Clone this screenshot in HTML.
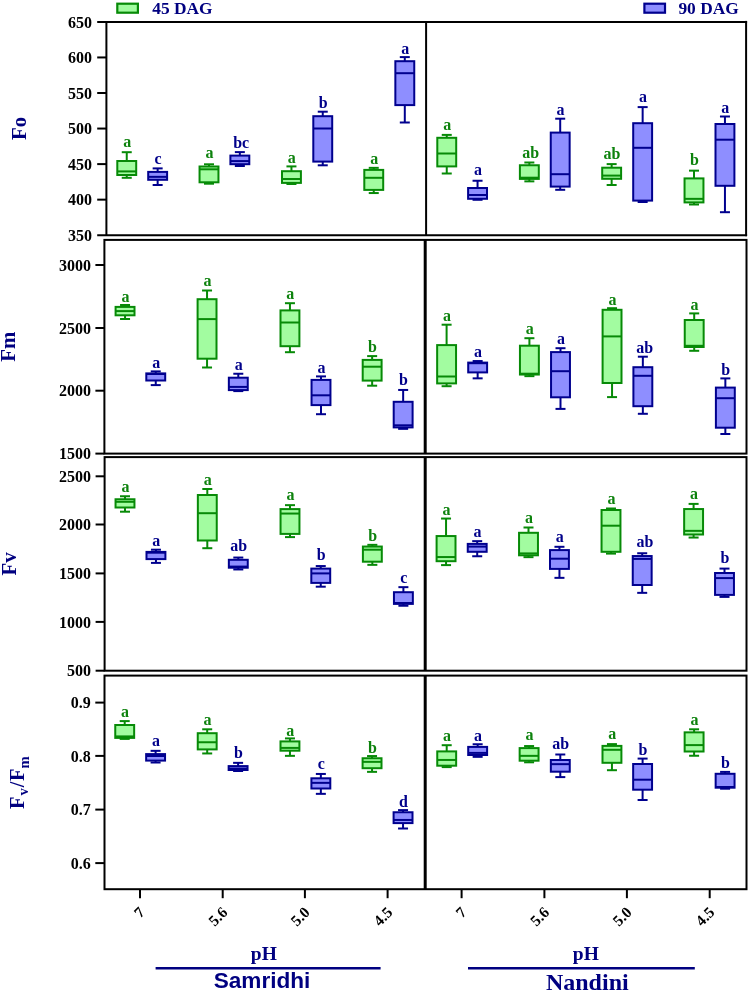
<!DOCTYPE html>
<html><head><meta charset="utf-8"><style>
html,body{margin:0;padding:0;background:#fff;}
body{width:749px;height:993px;overflow:hidden;}
svg{display:block;will-change:transform;filter:blur(0.35px);}
text{font-family:"Liberation Serif",serif;font-weight:bold;}
.lab{font-size:17px;text-anchor:middle;}
.yt{font-size:16px;text-anchor:end;fill:#000;}
.xt{font-size:15.5px;text-anchor:end;fill:#000;}
.ttl{font-size:20.8px;text-anchor:middle;fill:#000080;}
.sub{font-size:14.2px;}
.leg{font-size:17.4px;fill:#000080;}
.ph{font-size:19.5px;fill:#000080;text-anchor:middle;}
.sam{font-family:"Liberation Sans",sans-serif;font-size:22.6px;fill:#000080;text-anchor:middle;}
.nan{font-size:24px;fill:#000080;text-anchor:middle;}
</style></head><body>
<svg width="749" height="993" viewBox="0 0 749 993">
<rect width="749" height="993" fill="#fff"/>
<line x1="97.2" y1="21.9" x2="747.1" y2="21.9" stroke="#000" stroke-width="2"/>
<line x1="97.2" y1="235.2" x2="747.1" y2="235.2" stroke="#000" stroke-width="2"/>
<line x1="106.4" y1="21.9" x2="106.4" y2="235.2" stroke="#000" stroke-width="2"/>
<line x1="746.1" y1="20.9" x2="746.1" y2="236.2" stroke="#000" stroke-width="2"/>
<line x1="426.1" y1="21.9" x2="426.1" y2="235.2" stroke="#000" stroke-width="2"/>
<line x1="97.2" y1="57.45" x2="106.4" y2="57.45" stroke="#000" stroke-width="2"/>
<line x1="97.2" y1="93" x2="106.4" y2="93" stroke="#000" stroke-width="2"/>
<line x1="97.2" y1="128.55" x2="106.4" y2="128.55" stroke="#000" stroke-width="2"/>
<line x1="97.2" y1="164.1" x2="106.4" y2="164.1" stroke="#000" stroke-width="2"/>
<line x1="97.2" y1="199.65" x2="106.4" y2="199.65" stroke="#000" stroke-width="2"/>
<rect x="104.4" y="239.9" width="642.1" height="213.7" fill="none" stroke="#000" stroke-width="2"/>
<line x1="425.2" y1="239.9" x2="425.2" y2="453.6" stroke="#000" stroke-width="3"/>
<line x1="95.4" y1="265" x2="104.4" y2="265" stroke="#000" stroke-width="2"/>
<line x1="95.4" y1="328" x2="104.4" y2="328" stroke="#000" stroke-width="2"/>
<line x1="95.4" y1="390.7" x2="104.4" y2="390.7" stroke="#000" stroke-width="2"/>
<line x1="95.4" y1="453.6" x2="104.4" y2="453.6" stroke="#000" stroke-width="2"/>
<rect x="104.6" y="457.1" width="641.9" height="213.6" fill="none" stroke="#000" stroke-width="2"/>
<line x1="425.2" y1="457.1" x2="425.2" y2="670.7" stroke="#000" stroke-width="3"/>
<line x1="95.6" y1="476.3" x2="104.6" y2="476.3" stroke="#000" stroke-width="2"/>
<line x1="95.6" y1="524.5" x2="104.6" y2="524.5" stroke="#000" stroke-width="2"/>
<line x1="95.6" y1="573.4" x2="104.6" y2="573.4" stroke="#000" stroke-width="2"/>
<line x1="95.6" y1="621.9" x2="104.6" y2="621.9" stroke="#000" stroke-width="2"/>
<line x1="95.6" y1="670.7" x2="104.6" y2="670.7" stroke="#000" stroke-width="2"/>
<rect x="104.5" y="675.6" width="642" height="213.6" fill="none" stroke="#000" stroke-width="2"/>
<line x1="425.2" y1="675.6" x2="425.2" y2="889.2" stroke="#000" stroke-width="3"/>
<line x1="95.3" y1="702.6" x2="104.5" y2="702.6" stroke="#000" stroke-width="2"/>
<line x1="95.3" y1="755.9" x2="104.5" y2="755.9" stroke="#000" stroke-width="2"/>
<line x1="95.3" y1="809.6" x2="104.5" y2="809.6" stroke="#000" stroke-width="2"/>
<line x1="95.3" y1="863.1" x2="104.5" y2="863.1" stroke="#000" stroke-width="2"/>
<line x1="140" y1="889.2" x2="140" y2="898.2" stroke="#000" stroke-width="2"/>
<line x1="222.7" y1="889.2" x2="222.7" y2="898.2" stroke="#000" stroke-width="2"/>
<line x1="304.9" y1="889.2" x2="304.9" y2="898.2" stroke="#000" stroke-width="2"/>
<line x1="387.6" y1="889.2" x2="387.6" y2="898.2" stroke="#000" stroke-width="2"/>
<line x1="461.6" y1="889.2" x2="461.6" y2="898.2" stroke="#000" stroke-width="2"/>
<line x1="544.4" y1="889.2" x2="544.4" y2="898.2" stroke="#000" stroke-width="2"/>
<line x1="626.9" y1="889.2" x2="626.9" y2="898.2" stroke="#000" stroke-width="2"/>
<line x1="709.7" y1="889.2" x2="709.7" y2="898.2" stroke="#000" stroke-width="2"/>
<g stroke="#078a07" stroke-width="2" fill="none"><line x1="126.75" y1="152.2" x2="126.75" y2="161"/><line x1="121.75" y1="152.2" x2="131.75" y2="152.2"/><line x1="126.75" y1="175" x2="126.75" y2="177.8"/><line x1="121.75" y1="177.8" x2="131.75" y2="177.8"/><rect x="117.3" y="161" width="18.9" height="14" fill="#a2fca0"/><line x1="117.3" y1="171.4" x2="136.2" y2="171.4"/></g>
<text transform="translate(127.15,147.4) scale(0.94,1.03)" fill="#0d820d" class="lab">a</text>
<g stroke="#00008e" stroke-width="2" fill="none"><line x1="157.65" y1="168.4" x2="157.65" y2="171.9"/><line x1="152.65" y1="168.4" x2="162.65" y2="168.4"/><line x1="157.65" y1="179.8" x2="157.65" y2="185"/><line x1="152.65" y1="185" x2="162.65" y2="185"/><rect x="148.2" y="171.9" width="18.9" height="7.9" fill="#8e8eff"/><line x1="148.2" y1="176.85" x2="167.1" y2="176.85"/></g>
<text transform="translate(158.05,163.8) scale(0.94,1.03)" fill="#00008a" class="lab">c</text>
<g stroke="#078a07" stroke-width="2" fill="none"><line x1="209" y1="164.3" x2="209" y2="166.5"/><line x1="204" y1="164.3" x2="214" y2="164.3"/><line x1="209" y1="182.3" x2="209" y2="183.7"/><line x1="204" y1="183.7" x2="214" y2="183.7"/><rect x="199.55" y="166.5" width="18.9" height="15.8" fill="#a2fca0"/><line x1="199.55" y1="169.3" x2="218.45" y2="169.3"/></g>
<text transform="translate(209.4,158.2) scale(0.94,1.03)" fill="#0d820d" class="lab">a</text>
<g stroke="#00008e" stroke-width="2" fill="none"><line x1="239.85" y1="152.1" x2="239.85" y2="155.6"/><line x1="234.85" y1="152.1" x2="244.85" y2="152.1"/><line x1="239.85" y1="164.2" x2="239.85" y2="166"/><line x1="234.85" y1="166" x2="244.85" y2="166"/><rect x="230.4" y="155.6" width="18.9" height="8.6" fill="#8e8eff"/><line x1="230.4" y1="161.1" x2="249.3" y2="161.1"/></g>
<text transform="translate(241.2,147.8) scale(0.94,1.03)" fill="#00008a" class="lab">bc</text>
<g stroke="#078a07" stroke-width="2" fill="none"><line x1="291.45" y1="166.4" x2="291.45" y2="171.2"/><line x1="286.45" y1="166.4" x2="296.45" y2="166.4"/><line x1="291.45" y1="182.9" x2="291.45" y2="184"/><line x1="286.45" y1="184" x2="296.45" y2="184"/><rect x="282" y="171.2" width="18.9" height="11.7" fill="#a2fca0"/><line x1="282" y1="179" x2="300.9" y2="179"/></g>
<text transform="translate(291.85,162.9) scale(0.94,1.03)" fill="#0d820d" class="lab">a</text>
<g stroke="#00008e" stroke-width="2" fill="none"><line x1="322.75" y1="111.7" x2="322.75" y2="116.2"/><line x1="317.75" y1="111.7" x2="327.75" y2="111.7"/><line x1="322.75" y1="161.6" x2="322.75" y2="165.3"/><line x1="317.75" y1="165.3" x2="327.75" y2="165.3"/><rect x="313.3" y="116.2" width="18.9" height="45.4" fill="#8e8eff"/><line x1="313.3" y1="128.5" x2="332.2" y2="128.5"/></g>
<text transform="translate(323.15,107.9) scale(0.94,1.03)" fill="#00008a" class="lab">b</text>
<g stroke="#078a07" stroke-width="2" fill="none"><line x1="373.75" y1="167.85" x2="373.75" y2="169.9"/><line x1="368.75" y1="167.85" x2="378.75" y2="167.85"/><line x1="373.75" y1="189.9" x2="373.75" y2="193.05"/><line x1="368.75" y1="193.05" x2="378.75" y2="193.05"/><rect x="364.3" y="169.9" width="18.9" height="20" fill="#a2fca0"/><line x1="364.3" y1="177.8" x2="383.2" y2="177.8"/></g>
<text transform="translate(374.15,164.2) scale(0.94,1.03)" fill="#0d820d" class="lab">a</text>
<g stroke="#00008e" stroke-width="2" fill="none"><line x1="404.8" y1="57.1" x2="404.8" y2="61.2"/><line x1="399.8" y1="57.1" x2="409.8" y2="57.1"/><line x1="404.8" y1="105.1" x2="404.8" y2="122.5"/><line x1="399.8" y1="122.5" x2="409.8" y2="122.5"/><rect x="395.35" y="61.2" width="18.9" height="43.9" fill="#8e8eff"/><line x1="395.35" y1="73.2" x2="414.25" y2="73.2"/></g>
<text transform="translate(405.2,54.2) scale(0.94,1.03)" fill="#00008a" class="lab">a</text>
<g stroke="#078a07" stroke-width="2" fill="none"><line x1="446.75" y1="134.9" x2="446.75" y2="137.8"/><line x1="441.75" y1="134.9" x2="451.75" y2="134.9"/><line x1="446.75" y1="166.4" x2="446.75" y2="173.5"/><line x1="441.75" y1="173.5" x2="451.75" y2="173.5"/><rect x="437.3" y="137.8" width="18.9" height="28.6" fill="#a2fca0"/><line x1="437.3" y1="153.5" x2="456.2" y2="153.5"/></g>
<text transform="translate(447.15,130.1) scale(0.94,1.03)" fill="#0d820d" class="lab">a</text>
<g stroke="#00008e" stroke-width="2" fill="none"><line x1="477.55" y1="180.75" x2="477.55" y2="188"/><line x1="472.55" y1="180.75" x2="482.55" y2="180.75"/><line x1="477.55" y1="198.8" x2="477.55" y2="199.8"/><line x1="472.55" y1="199.8" x2="482.55" y2="199.8"/><rect x="468.1" y="188" width="18.9" height="10.8" fill="#8e8eff"/><line x1="468.1" y1="195" x2="487" y2="195"/></g>
<text transform="translate(477.95,175.4) scale(0.94,1.03)" fill="#00008a" class="lab">a</text>
<g stroke="#078a07" stroke-width="2" fill="none"><line x1="529.35" y1="162.5" x2="529.35" y2="165.25"/><line x1="524.35" y1="162.5" x2="534.35" y2="162.5"/><line x1="529.35" y1="178.9" x2="529.35" y2="181.35"/><line x1="524.35" y1="181.35" x2="534.35" y2="181.35"/><rect x="519.9" y="165.25" width="18.9" height="13.65" fill="#a2fca0"/><line x1="519.9" y1="177.7" x2="538.8" y2="177.7"/></g>
<text transform="translate(530.7,158) scale(0.94,1.03)" fill="#0d820d" class="lab">ab</text>
<g stroke="#00008e" stroke-width="2" fill="none"><line x1="560.2" y1="118.7" x2="560.2" y2="132.6"/><line x1="555.2" y1="118.7" x2="565.2" y2="118.7"/><line x1="560.2" y1="186.6" x2="560.2" y2="189.8"/><line x1="555.2" y1="189.8" x2="565.2" y2="189.8"/><rect x="550.75" y="132.6" width="18.9" height="54" fill="#8e8eff"/><line x1="550.75" y1="174.2" x2="569.65" y2="174.2"/></g>
<text transform="translate(560.6,114.8) scale(0.94,1.03)" fill="#00008a" class="lab">a</text>
<g stroke="#078a07" stroke-width="2" fill="none"><line x1="611.65" y1="164.1" x2="611.65" y2="167.7"/><line x1="606.65" y1="164.1" x2="616.65" y2="164.1"/><line x1="611.65" y1="178.8" x2="611.65" y2="185"/><line x1="606.65" y1="185" x2="616.65" y2="185"/><rect x="602.2" y="167.7" width="18.9" height="11.1" fill="#a2fca0"/><line x1="602.2" y1="175.6" x2="621.1" y2="175.6"/></g>
<text transform="translate(612.05,159.3) scale(0.94,1.03)" fill="#0d820d" class="lab">ab</text>
<g stroke="#00008e" stroke-width="2" fill="none"><line x1="642.65" y1="107.1" x2="642.65" y2="123.2"/><line x1="637.65" y1="107.1" x2="647.65" y2="107.1"/><line x1="642.65" y1="200.6" x2="642.65" y2="202"/><line x1="637.65" y1="202" x2="647.65" y2="202"/><rect x="633.2" y="123.2" width="18.9" height="77.4" fill="#8e8eff"/><line x1="633.2" y1="147.8" x2="652.1" y2="147.8"/></g>
<text transform="translate(643.05,101.9) scale(0.94,1.03)" fill="#00008a" class="lab">a</text>
<g stroke="#078a07" stroke-width="2" fill="none"><line x1="694" y1="170.65" x2="694" y2="178.4"/><line x1="689" y1="170.65" x2="699" y2="170.65"/><line x1="694" y1="202.4" x2="694" y2="204.5"/><line x1="689" y1="204.5" x2="699" y2="204.5"/><rect x="684.55" y="178.4" width="18.9" height="24" fill="#a2fca0"/><line x1="684.55" y1="198.85" x2="703.45" y2="198.85"/></g>
<text transform="translate(694.4,165.4) scale(0.94,1.03)" fill="#0d820d" class="lab">b</text>
<g stroke="#00008e" stroke-width="2" fill="none"><line x1="724.95" y1="116.5" x2="724.95" y2="124"/><line x1="719.95" y1="116.5" x2="729.95" y2="116.5"/><line x1="724.95" y1="185.8" x2="724.95" y2="212.2"/><line x1="719.95" y1="212.2" x2="729.95" y2="212.2"/><rect x="715.5" y="124" width="18.9" height="61.8" fill="#8e8eff"/><line x1="715.5" y1="139.7" x2="734.4" y2="139.7"/></g>
<text transform="translate(725.35,112.5) scale(0.94,1.03)" fill="#00008a" class="lab">a</text>
<g stroke="#078a07" stroke-width="2" fill="none"><line x1="125.05" y1="305" x2="125.05" y2="306.9"/><line x1="120.05" y1="305" x2="130.05" y2="305"/><line x1="125.05" y1="315.3" x2="125.05" y2="319"/><line x1="120.05" y1="319" x2="130.05" y2="319"/><rect x="115.6" y="306.9" width="18.9" height="8.4" fill="#a2fca0"/><line x1="115.6" y1="311.1" x2="134.5" y2="311.1"/></g>
<text transform="translate(125.45,301.7) scale(0.94,1.03)" fill="#0d820d" class="lab">a</text>
<g stroke="#00008e" stroke-width="2" fill="none"><line x1="155.75" y1="371.4" x2="155.75" y2="373.4"/><line x1="150.75" y1="371.4" x2="160.75" y2="371.4"/><line x1="155.75" y1="380.5" x2="155.75" y2="385.1"/><line x1="150.75" y1="385.1" x2="160.75" y2="385.1"/><rect x="146.3" y="373.4" width="18.9" height="7.1" fill="#8e8eff"/><line x1="146.3" y1="374" x2="165.2" y2="374"/></g>
<text transform="translate(156.15,367.7) scale(0.94,1.03)" fill="#00008a" class="lab">a</text>
<g stroke="#078a07" stroke-width="2" fill="none"><line x1="207.05" y1="290.5" x2="207.05" y2="299.2"/><line x1="202.05" y1="290.5" x2="212.05" y2="290.5"/><line x1="207.05" y1="358.7" x2="207.05" y2="367.5"/><line x1="202.05" y1="367.5" x2="212.05" y2="367.5"/><rect x="197.6" y="299.2" width="18.9" height="59.5" fill="#a2fca0"/><line x1="197.6" y1="319.1" x2="216.5" y2="319.1"/></g>
<text transform="translate(207.45,285.7) scale(0.94,1.03)" fill="#0d820d" class="lab">a</text>
<g stroke="#00008e" stroke-width="2" fill="none"><line x1="238.3" y1="373.75" x2="238.3" y2="377.7"/><line x1="233.3" y1="373.75" x2="243.3" y2="373.75"/><line x1="238.3" y1="390.1" x2="238.3" y2="391.1"/><line x1="233.3" y1="391.1" x2="243.3" y2="391.1"/><rect x="228.85" y="377.7" width="18.9" height="12.4" fill="#8e8eff"/><line x1="228.85" y1="386.9" x2="247.75" y2="386.9"/></g>
<text transform="translate(238.7,369.8) scale(0.94,1.03)" fill="#00008a" class="lab">a</text>
<g stroke="#078a07" stroke-width="2" fill="none"><line x1="289.95" y1="303.2" x2="289.95" y2="310.4"/><line x1="284.95" y1="303.2" x2="294.95" y2="303.2"/><line x1="289.95" y1="346.2" x2="289.95" y2="352.2"/><line x1="284.95" y1="352.2" x2="294.95" y2="352.2"/><rect x="280.5" y="310.4" width="18.9" height="35.8" fill="#a2fca0"/><line x1="280.5" y1="322.5" x2="299.4" y2="322.5"/></g>
<text transform="translate(290.35,298.8) scale(0.94,1.03)" fill="#0d820d" class="lab">a</text>
<g stroke="#00008e" stroke-width="2" fill="none"><line x1="321" y1="376.4" x2="321" y2="379.9"/><line x1="316" y1="376.4" x2="326" y2="376.4"/><line x1="321" y1="405.1" x2="321" y2="414.2"/><line x1="316" y1="414.2" x2="326" y2="414.2"/><rect x="311.55" y="379.9" width="18.9" height="25.2" fill="#8e8eff"/><line x1="311.55" y1="395.3" x2="330.45" y2="395.3"/></g>
<text transform="translate(321.4,372.6) scale(0.94,1.03)" fill="#00008a" class="lab">a</text>
<g stroke="#078a07" stroke-width="2" fill="none"><line x1="372.15" y1="356.1" x2="372.15" y2="359.9"/><line x1="367.15" y1="356.1" x2="377.15" y2="356.1"/><line x1="372.15" y1="380.6" x2="372.15" y2="385.7"/><line x1="367.15" y1="385.7" x2="377.15" y2="385.7"/><rect x="362.7" y="359.9" width="18.9" height="20.7" fill="#a2fca0"/><line x1="362.7" y1="366.7" x2="381.6" y2="366.7"/></g>
<text transform="translate(372.55,352.2) scale(0.94,1.03)" fill="#0d820d" class="lab">b</text>
<g stroke="#00008e" stroke-width="2" fill="none"><line x1="403.15" y1="389.95" x2="403.15" y2="401.8"/><line x1="398.15" y1="389.95" x2="408.15" y2="389.95"/><line x1="403.15" y1="427.4" x2="403.15" y2="428.85"/><line x1="398.15" y1="428.85" x2="408.15" y2="428.85"/><rect x="393.7" y="401.8" width="18.9" height="25.6" fill="#8e8eff"/><line x1="393.7" y1="425.3" x2="412.6" y2="425.3"/></g>
<text transform="translate(403.55,384.7) scale(0.94,1.03)" fill="#00008a" class="lab">b</text>
<g stroke="#078a07" stroke-width="2" fill="none"><line x1="446.6" y1="324.7" x2="446.6" y2="345.1"/><line x1="441.6" y1="324.7" x2="451.6" y2="324.7"/><line x1="446.6" y1="383.4" x2="446.6" y2="386.2"/><line x1="441.6" y1="386.2" x2="451.6" y2="386.2"/><rect x="437.15" y="345.1" width="18.9" height="38.3" fill="#a2fca0"/><line x1="437.15" y1="376.5" x2="456.05" y2="376.5"/></g>
<text transform="translate(447,320.7) scale(0.94,1.03)" fill="#0d820d" class="lab">a</text>
<g stroke="#00008e" stroke-width="2" fill="none"><line x1="477.65" y1="361.05" x2="477.65" y2="362.6"/><line x1="472.65" y1="361.05" x2="482.65" y2="361.05"/><line x1="477.65" y1="372.4" x2="477.65" y2="378.35"/><line x1="472.65" y1="378.35" x2="482.65" y2="378.35"/><rect x="468.2" y="362.6" width="18.9" height="9.8" fill="#8e8eff"/><line x1="468.2" y1="363.2" x2="487.1" y2="363.2"/></g>
<text transform="translate(478.05,357) scale(0.94,1.03)" fill="#00008a" class="lab">a</text>
<g stroke="#078a07" stroke-width="2" fill="none"><line x1="529.4" y1="338.2" x2="529.4" y2="345.7"/><line x1="524.4" y1="338.2" x2="534.4" y2="338.2"/><line x1="529.4" y1="374.55" x2="529.4" y2="376.15"/><line x1="524.4" y1="376.15" x2="534.4" y2="376.15"/><rect x="519.95" y="345.7" width="18.9" height="28.85" fill="#a2fca0"/><line x1="519.95" y1="373.7" x2="538.85" y2="373.7"/></g>
<text transform="translate(529.8,334.1) scale(0.94,1.03)" fill="#0d820d" class="lab">a</text>
<g stroke="#00008e" stroke-width="2" fill="none"><line x1="560.5" y1="348.2" x2="560.5" y2="352.1"/><line x1="555.5" y1="348.2" x2="565.5" y2="348.2"/><line x1="560.5" y1="397.3" x2="560.5" y2="408.9"/><line x1="555.5" y1="408.9" x2="565.5" y2="408.9"/><rect x="551.05" y="352.1" width="18.9" height="45.2" fill="#8e8eff"/><line x1="551.05" y1="371.2" x2="569.95" y2="371.2"/></g>
<text transform="translate(560.9,344.2) scale(0.94,1.03)" fill="#00008a" class="lab">a</text>
<g stroke="#078a07" stroke-width="2" fill="none"><line x1="612.05" y1="308.2" x2="612.05" y2="309.8"/><line x1="607.05" y1="308.2" x2="617.05" y2="308.2"/><line x1="612.05" y1="383" x2="612.05" y2="397.1"/><line x1="607.05" y1="397.1" x2="617.05" y2="397.1"/><rect x="602.6" y="309.8" width="18.9" height="73.2" fill="#a2fca0"/><line x1="602.6" y1="336.4" x2="621.5" y2="336.4"/></g>
<text transform="translate(612.45,305.3) scale(0.94,1.03)" fill="#0d820d" class="lab">a</text>
<g stroke="#00008e" stroke-width="2" fill="none"><line x1="642.85" y1="356.7" x2="642.85" y2="367.2"/><line x1="637.85" y1="356.7" x2="647.85" y2="356.7"/><line x1="642.85" y1="406.2" x2="642.85" y2="413.8"/><line x1="637.85" y1="413.8" x2="647.85" y2="413.8"/><rect x="633.4" y="367.2" width="18.9" height="39" fill="#8e8eff"/><line x1="633.4" y1="375.8" x2="652.3" y2="375.8"/></g>
<text transform="translate(644.8,352.9) scale(0.94,1.03)" fill="#00008a" class="lab">ab</text>
<g stroke="#078a07" stroke-width="2" fill="none"><line x1="694.2" y1="313.4" x2="694.2" y2="320"/><line x1="689.2" y1="313.4" x2="699.2" y2="313.4"/><line x1="694.2" y1="347" x2="694.2" y2="350.8"/><line x1="689.2" y1="350.8" x2="699.2" y2="350.8"/><rect x="684.75" y="320" width="18.9" height="27" fill="#a2fca0"/><line x1="684.75" y1="345.8" x2="703.65" y2="345.8"/></g>
<text transform="translate(694.6,310.4) scale(0.94,1.03)" fill="#0d820d" class="lab">a</text>
<g stroke="#00008e" stroke-width="2" fill="none"><line x1="725.35" y1="378.4" x2="725.35" y2="387.6"/><line x1="720.35" y1="378.4" x2="730.35" y2="378.4"/><line x1="725.35" y1="427.7" x2="725.35" y2="434"/><line x1="720.35" y1="434" x2="730.35" y2="434"/><rect x="715.9" y="387.6" width="18.9" height="40.1" fill="#8e8eff"/><line x1="715.9" y1="398.2" x2="734.8" y2="398.2"/></g>
<text transform="translate(725.75,374.9) scale(0.94,1.03)" fill="#00008a" class="lab">b</text>
<g stroke="#078a07" stroke-width="2" fill="none"><line x1="125" y1="496.25" x2="125" y2="499.25"/><line x1="120" y1="496.25" x2="130" y2="496.25"/><line x1="125" y1="507.5" x2="125" y2="511.7"/><line x1="120" y1="511.7" x2="130" y2="511.7"/><rect x="115.55" y="499.25" width="18.9" height="8.25" fill="#a2fca0"/><line x1="115.55" y1="501.8" x2="134.45" y2="501.8"/></g>
<text transform="translate(125.4,491.6) scale(0.94,1.03)" fill="#0d820d" class="lab">a</text>
<g stroke="#00008e" stroke-width="2" fill="none"><line x1="155.95" y1="549.7" x2="155.95" y2="551.9"/><line x1="150.95" y1="549.7" x2="160.95" y2="549.7"/><line x1="155.95" y1="559.1" x2="155.95" y2="562.9"/><line x1="150.95" y1="562.9" x2="160.95" y2="562.9"/><rect x="146.5" y="551.9" width="18.9" height="7.2" fill="#8e8eff"/><line x1="146.5" y1="552.7" x2="165.4" y2="552.7"/></g>
<text transform="translate(156.35,545.8) scale(0.94,1.03)" fill="#00008a" class="lab">a</text>
<g stroke="#078a07" stroke-width="2" fill="none"><line x1="207.3" y1="489" x2="207.3" y2="495"/><line x1="202.3" y1="489" x2="212.3" y2="489"/><line x1="207.3" y1="540.5" x2="207.3" y2="548.2"/><line x1="202.3" y1="548.2" x2="212.3" y2="548.2"/><rect x="197.85" y="495" width="18.9" height="45.5" fill="#a2fca0"/><line x1="197.85" y1="513.2" x2="216.75" y2="513.2"/></g>
<text transform="translate(207.7,485) scale(0.94,1.03)" fill="#0d820d" class="lab">a</text>
<g stroke="#00008e" stroke-width="2" fill="none"><line x1="238.3" y1="557.55" x2="238.3" y2="559.8"/><line x1="233.3" y1="557.55" x2="243.3" y2="557.55"/><line x1="238.3" y1="567.7" x2="238.3" y2="569.45"/><line x1="233.3" y1="569.45" x2="243.3" y2="569.45"/><rect x="228.85" y="559.8" width="18.9" height="7.9" fill="#8e8eff"/><line x1="228.85" y1="566.6" x2="247.75" y2="566.6"/></g>
<text transform="translate(238.7,550.9) scale(0.94,1.03)" fill="#00008a" class="lab">ab</text>
<g stroke="#078a07" stroke-width="2" fill="none"><line x1="290" y1="505.15" x2="290" y2="509.1"/><line x1="285" y1="505.15" x2="295" y2="505.15"/><line x1="290" y1="533.9" x2="290" y2="537.1"/><line x1="285" y1="537.1" x2="295" y2="537.1"/><rect x="280.55" y="509.1" width="18.9" height="24.8" fill="#a2fca0"/><line x1="280.55" y1="513.55" x2="299.45" y2="513.55"/></g>
<text transform="translate(290.4,500.3) scale(0.94,1.03)" fill="#0d820d" class="lab">a</text>
<g stroke="#00008e" stroke-width="2" fill="none"><line x1="320.75" y1="566.05" x2="320.75" y2="568.6"/><line x1="315.75" y1="566.05" x2="325.75" y2="566.05"/><line x1="320.75" y1="582.9" x2="320.75" y2="586.7"/><line x1="315.75" y1="586.7" x2="325.75" y2="586.7"/><rect x="311.3" y="568.6" width="18.9" height="14.3" fill="#8e8eff"/><line x1="311.3" y1="573.4" x2="330.2" y2="573.4"/></g>
<text transform="translate(321.15,560.2) scale(0.94,1.03)" fill="#00008a" class="lab">b</text>
<g stroke="#078a07" stroke-width="2" fill="none"><line x1="372.35" y1="544.85" x2="372.35" y2="546.55"/><line x1="367.35" y1="544.85" x2="377.35" y2="544.85"/><line x1="372.35" y1="561.7" x2="372.35" y2="564.85"/><line x1="367.35" y1="564.85" x2="377.35" y2="564.85"/><rect x="362.9" y="546.55" width="18.9" height="15.15" fill="#a2fca0"/><line x1="362.9" y1="549.7" x2="381.8" y2="549.7"/></g>
<text transform="translate(372.75,540.7) scale(0.94,1.03)" fill="#0d820d" class="lab">b</text>
<g stroke="#00008e" stroke-width="2" fill="none"><line x1="403.4" y1="587.15" x2="403.4" y2="592.2"/><line x1="398.4" y1="587.15" x2="408.4" y2="587.15"/><line x1="403.4" y1="603.9" x2="403.4" y2="605.75"/><line x1="398.4" y1="605.75" x2="408.4" y2="605.75"/><rect x="393.95" y="592.2" width="18.9" height="11.7" fill="#8e8eff"/><line x1="393.95" y1="603" x2="412.85" y2="603"/></g>
<text transform="translate(403.8,582.7) scale(0.94,1.03)" fill="#00008a" class="lab">c</text>
<g stroke="#078a07" stroke-width="2" fill="none"><line x1="446.05" y1="518.55" x2="446.05" y2="536.05"/><line x1="441.05" y1="518.55" x2="451.05" y2="518.55"/><line x1="446.05" y1="561.2" x2="446.05" y2="565.1"/><line x1="441.05" y1="565.1" x2="451.05" y2="565.1"/><rect x="436.6" y="536.05" width="18.9" height="25.15" fill="#a2fca0"/><line x1="436.6" y1="557.05" x2="455.5" y2="557.05"/></g>
<text transform="translate(446.45,515.1) scale(0.94,1.03)" fill="#0d820d" class="lab">a</text>
<g stroke="#00008e" stroke-width="2" fill="none"><line x1="477.2" y1="541.15" x2="477.2" y2="543.9"/><line x1="472.2" y1="541.15" x2="482.2" y2="541.15"/><line x1="477.2" y1="551.8" x2="477.2" y2="556.25"/><line x1="472.2" y1="556.25" x2="482.2" y2="556.25"/><rect x="467.75" y="543.9" width="18.9" height="7.9" fill="#8e8eff"/><line x1="467.75" y1="546.6" x2="486.65" y2="546.6"/></g>
<text transform="translate(477.6,536.5) scale(0.94,1.03)" fill="#00008a" class="lab">a</text>
<g stroke="#078a07" stroke-width="2" fill="none"><line x1="528.5" y1="527.5" x2="528.5" y2="532.8"/><line x1="523.5" y1="527.5" x2="533.5" y2="527.5"/><line x1="528.5" y1="555.3" x2="528.5" y2="557.15"/><line x1="523.5" y1="557.15" x2="533.5" y2="557.15"/><rect x="519.05" y="532.8" width="18.9" height="22.5" fill="#a2fca0"/><line x1="519.05" y1="553.4" x2="537.95" y2="553.4"/></g>
<text transform="translate(528.9,522.9) scale(0.94,1.03)" fill="#0d820d" class="lab">a</text>
<g stroke="#00008e" stroke-width="2" fill="none"><line x1="559.45" y1="546.8" x2="559.45" y2="550.1"/><line x1="554.45" y1="546.8" x2="564.45" y2="546.8"/><line x1="559.45" y1="568.9" x2="559.45" y2="577.85"/><line x1="554.45" y1="577.85" x2="564.45" y2="577.85"/><rect x="550" y="550.1" width="18.9" height="18.8" fill="#8e8eff"/><line x1="550" y1="558.7" x2="568.9" y2="558.7"/></g>
<text transform="translate(559.85,542.3) scale(0.94,1.03)" fill="#00008a" class="lab">a</text>
<g stroke="#078a07" stroke-width="2" fill="none"><line x1="611" y1="508.5" x2="611" y2="510"/><line x1="606" y1="508.5" x2="616" y2="508.5"/><line x1="611" y1="551.8" x2="611" y2="553.6"/><line x1="606" y1="553.6" x2="616" y2="553.6"/><rect x="601.55" y="510" width="18.9" height="41.8" fill="#a2fca0"/><line x1="601.55" y1="525.7" x2="620.45" y2="525.7"/></g>
<text transform="translate(611.4,503.9) scale(0.94,1.03)" fill="#0d820d" class="lab">a</text>
<g stroke="#00008e" stroke-width="2" fill="none"><line x1="642.2" y1="553.25" x2="642.2" y2="556.05"/><line x1="637.2" y1="553.25" x2="647.2" y2="553.25"/><line x1="642.2" y1="585" x2="642.2" y2="592.85"/><line x1="637.2" y1="592.85" x2="647.2" y2="592.85"/><rect x="632.75" y="556.05" width="18.9" height="28.95" fill="#8e8eff"/><line x1="632.75" y1="558.9" x2="651.65" y2="558.9"/></g>
<text transform="translate(645,547.3) scale(0.94,1.03)" fill="#00008a" class="lab">ab</text>
<g stroke="#078a07" stroke-width="2" fill="none"><line x1="693.6" y1="503.9" x2="693.6" y2="509.05"/><line x1="688.6" y1="503.9" x2="698.6" y2="503.9"/><line x1="693.6" y1="534.5" x2="693.6" y2="537.55"/><line x1="688.6" y1="537.55" x2="698.6" y2="537.55"/><rect x="684.15" y="509.05" width="18.9" height="25.45" fill="#a2fca0"/><line x1="684.15" y1="530.85" x2="703.05" y2="530.85"/></g>
<text transform="translate(694,499.3) scale(0.94,1.03)" fill="#0d820d" class="lab">a</text>
<g stroke="#00008e" stroke-width="2" fill="none"><line x1="724.5" y1="568.6" x2="724.5" y2="573"/><line x1="719.5" y1="568.6" x2="729.5" y2="568.6"/><line x1="724.5" y1="594.9" x2="724.5" y2="596.9"/><line x1="719.5" y1="596.9" x2="729.5" y2="596.9"/><rect x="715.05" y="573" width="18.9" height="21.9" fill="#8e8eff"/><line x1="715.05" y1="578.1" x2="733.95" y2="578.1"/></g>
<text transform="translate(724.9,563.1) scale(0.94,1.03)" fill="#00008a" class="lab">b</text>
<g stroke="#078a07" stroke-width="2" fill="none"><line x1="124.7" y1="721.1" x2="124.7" y2="725"/><line x1="119.7" y1="721.1" x2="129.7" y2="721.1"/><line x1="124.7" y1="737.9" x2="124.7" y2="738.9"/><line x1="119.7" y1="738.9" x2="129.7" y2="738.9"/><rect x="115.25" y="725" width="18.9" height="12.9" fill="#a2fca0"/><line x1="115.25" y1="736.4" x2="134.15" y2="736.4"/></g>
<text transform="translate(125.1,716.5) scale(0.94,1.03)" fill="#0d820d" class="lab">a</text>
<g stroke="#00008e" stroke-width="2" fill="none"><line x1="155.6" y1="750.85" x2="155.6" y2="754.1"/><line x1="150.6" y1="750.85" x2="160.6" y2="750.85"/><line x1="155.6" y1="760.6" x2="155.6" y2="762.5"/><line x1="150.6" y1="762.5" x2="160.6" y2="762.5"/><rect x="146.15" y="754.1" width="18.9" height="6.5" fill="#8e8eff"/><line x1="146.15" y1="756" x2="165.05" y2="756"/></g>
<text transform="translate(156,746) scale(0.94,1.03)" fill="#00008a" class="lab">a</text>
<g stroke="#078a07" stroke-width="2" fill="none"><line x1="207.2" y1="729.3" x2="207.2" y2="733.2"/><line x1="202.2" y1="729.3" x2="212.2" y2="729.3"/><line x1="207.2" y1="749.4" x2="207.2" y2="753.45"/><line x1="202.2" y1="753.45" x2="212.2" y2="753.45"/><rect x="197.75" y="733.2" width="18.9" height="16.2" fill="#a2fca0"/><line x1="197.75" y1="742.25" x2="216.65" y2="742.25"/></g>
<text transform="translate(207.6,724.9) scale(0.94,1.03)" fill="#0d820d" class="lab">a</text>
<g stroke="#00008e" stroke-width="2" fill="none"><line x1="238.1" y1="762.85" x2="238.1" y2="766.1"/><line x1="233.1" y1="762.85" x2="243.1" y2="762.85"/><line x1="238.1" y1="770" x2="238.1" y2="771"/><line x1="233.1" y1="771" x2="243.1" y2="771"/><rect x="228.65" y="766.1" width="18.9" height="3.9" fill="#8e8eff"/><line x1="228.65" y1="768.6" x2="247.55" y2="768.6"/></g>
<text transform="translate(238.5,758.2) scale(0.94,1.03)" fill="#00008a" class="lab">b</text>
<g stroke="#078a07" stroke-width="2" fill="none"><line x1="289.95" y1="738.4" x2="289.95" y2="741.4"/><line x1="284.95" y1="738.4" x2="294.95" y2="738.4"/><line x1="289.95" y1="750.7" x2="289.95" y2="755.85"/><line x1="284.95" y1="755.85" x2="294.95" y2="755.85"/><rect x="280.5" y="741.4" width="18.9" height="9.3" fill="#a2fca0"/><line x1="280.5" y1="747.9" x2="299.4" y2="747.9"/></g>
<text transform="translate(290.35,735.8) scale(0.94,1.03)" fill="#0d820d" class="lab">a</text>
<g stroke="#00008e" stroke-width="2" fill="none"><line x1="320.85" y1="773.95" x2="320.85" y2="778.3"/><line x1="315.85" y1="773.95" x2="325.85" y2="773.95"/><line x1="320.85" y1="788.5" x2="320.85" y2="793.85"/><line x1="315.85" y1="793.85" x2="325.85" y2="793.85"/><rect x="311.4" y="778.3" width="18.9" height="10.2" fill="#8e8eff"/><line x1="311.4" y1="782.85" x2="330.3" y2="782.85"/></g>
<text transform="translate(321.25,769.1) scale(0.94,1.03)" fill="#00008a" class="lab">c</text>
<g stroke="#078a07" stroke-width="2" fill="none"><line x1="372.05" y1="756.05" x2="372.05" y2="758.25"/><line x1="367.05" y1="756.05" x2="377.05" y2="756.05"/><line x1="372.05" y1="768.2" x2="372.05" y2="771.85"/><line x1="367.05" y1="771.85" x2="377.05" y2="771.85"/><rect x="362.6" y="758.25" width="18.9" height="9.95" fill="#a2fca0"/><line x1="362.6" y1="761.85" x2="381.5" y2="761.85"/></g>
<text transform="translate(372.45,752.6) scale(0.94,1.03)" fill="#0d820d" class="lab">b</text>
<g stroke="#00008e" stroke-width="2" fill="none"><line x1="403.05" y1="810.1" x2="403.05" y2="812.25"/><line x1="398.05" y1="810.1" x2="408.05" y2="810.1"/><line x1="403.05" y1="823.1" x2="403.05" y2="828.5"/><line x1="398.05" y1="828.5" x2="408.05" y2="828.5"/><rect x="393.6" y="812.25" width="18.9" height="10.85" fill="#8e8eff"/><line x1="393.6" y1="819.95" x2="412.5" y2="819.95"/></g>
<text transform="translate(403.45,806.7) scale(0.94,1.03)" fill="#00008a" class="lab">d</text>
<g stroke="#078a07" stroke-width="2" fill="none"><line x1="446.7" y1="745.2" x2="446.7" y2="751.4"/><line x1="441.7" y1="745.2" x2="451.7" y2="745.2"/><line x1="446.7" y1="765.7" x2="446.7" y2="767.1"/><line x1="441.7" y1="767.1" x2="451.7" y2="767.1"/><rect x="437.25" y="751.4" width="18.9" height="14.3" fill="#a2fca0"/><line x1="437.25" y1="759.95" x2="456.15" y2="759.95"/></g>
<text transform="translate(447.1,740.7) scale(0.94,1.03)" fill="#0d820d" class="lab">a</text>
<g stroke="#00008e" stroke-width="2" fill="none"><line x1="477.65" y1="744.25" x2="477.65" y2="746.9"/><line x1="472.65" y1="744.25" x2="482.65" y2="744.25"/><line x1="477.65" y1="755" x2="477.65" y2="756.85"/><line x1="472.65" y1="756.85" x2="482.65" y2="756.85"/><rect x="468.2" y="746.9" width="18.9" height="8.1" fill="#8e8eff"/><line x1="468.2" y1="752.9" x2="487.1" y2="752.9"/></g>
<text transform="translate(478.05,741.1) scale(0.94,1.03)" fill="#00008a" class="lab">a</text>
<g stroke="#078a07" stroke-width="2" fill="none"><line x1="529.1" y1="746.05" x2="529.1" y2="748.1"/><line x1="524.1" y1="746.05" x2="534.1" y2="746.05"/><line x1="529.1" y1="760.7" x2="529.1" y2="762.3"/><line x1="524.1" y1="762.3" x2="534.1" y2="762.3"/><rect x="519.65" y="748.1" width="18.9" height="12.6" fill="#a2fca0"/><line x1="519.65" y1="755.85" x2="538.55" y2="755.85"/></g>
<text transform="translate(529.5,740.3) scale(0.94,1.03)" fill="#0d820d" class="lab">a</text>
<g stroke="#00008e" stroke-width="2" fill="none"><line x1="560.3" y1="754.5" x2="560.3" y2="760"/><line x1="555.3" y1="754.5" x2="565.3" y2="754.5"/><line x1="560.3" y1="771.7" x2="560.3" y2="777.1"/><line x1="555.3" y1="777.1" x2="565.3" y2="777.1"/><rect x="550.85" y="760" width="18.9" height="11.7" fill="#8e8eff"/><line x1="550.85" y1="764.15" x2="569.75" y2="764.15"/></g>
<text transform="translate(560.7,748.8) scale(0.94,1.03)" fill="#00008a" class="lab">ab</text>
<g stroke="#078a07" stroke-width="2" fill="none"><line x1="611.95" y1="744.1" x2="611.95" y2="745.9"/><line x1="606.95" y1="744.1" x2="616.95" y2="744.1"/><line x1="611.95" y1="762.8" x2="611.95" y2="770.2"/><line x1="606.95" y1="770.2" x2="616.95" y2="770.2"/><rect x="602.5" y="745.9" width="18.9" height="16.9" fill="#a2fca0"/><line x1="602.5" y1="749.8" x2="621.4" y2="749.8"/></g>
<text transform="translate(612.35,739.2) scale(0.94,1.03)" fill="#0d820d" class="lab">a</text>
<g stroke="#00008e" stroke-width="2" fill="none"><line x1="642.6" y1="758.6" x2="642.6" y2="764"/><line x1="637.6" y1="758.6" x2="647.6" y2="758.6"/><line x1="642.6" y1="789.7" x2="642.6" y2="800"/><line x1="637.6" y1="800" x2="647.6" y2="800"/><rect x="633.15" y="764" width="18.9" height="25.7" fill="#8e8eff"/><line x1="633.15" y1="779.7" x2="652.05" y2="779.7"/></g>
<text transform="translate(643,754.8) scale(0.94,1.03)" fill="#00008a" class="lab">b</text>
<g stroke="#078a07" stroke-width="2" fill="none"><line x1="694.1" y1="729.3" x2="694.1" y2="732.35"/><line x1="689.1" y1="729.3" x2="699.1" y2="729.3"/><line x1="694.1" y1="751.5" x2="694.1" y2="755.75"/><line x1="689.1" y1="755.75" x2="699.1" y2="755.75"/><rect x="684.65" y="732.35" width="18.9" height="19.15" fill="#a2fca0"/><line x1="684.65" y1="745.1" x2="703.55" y2="745.1"/></g>
<text transform="translate(694.5,725) scale(0.94,1.03)" fill="#0d820d" class="lab">a</text>
<g stroke="#00008e" stroke-width="2" fill="none"><line x1="725.1" y1="771.9" x2="725.1" y2="773.8"/><line x1="720.1" y1="771.9" x2="730.1" y2="771.9"/><line x1="725.1" y1="787.7" x2="725.1" y2="788.7"/><line x1="720.1" y1="788.7" x2="730.1" y2="788.7"/><rect x="715.65" y="773.8" width="18.9" height="13.9" fill="#8e8eff"/><line x1="715.65" y1="787" x2="734.55" y2="787"/></g>
<text transform="translate(725.5,768) scale(0.94,1.03)" fill="#00008a" class="lab">b</text>
<text x="92" y="27.5" class="yt">650</text>
<text x="92" y="63.05" class="yt">600</text>
<text x="92" y="98.6" class="yt">550</text>
<text x="92" y="134.15" class="yt">500</text>
<text x="92" y="169.7" class="yt">450</text>
<text x="92" y="205.25" class="yt">400</text>
<text x="92" y="240.8" class="yt">350</text>
<text x="91" y="270.6" class="yt">3000</text>
<text x="91" y="333.6" class="yt">2500</text>
<text x="91" y="396.3" class="yt">2000</text>
<text x="91" y="459.2" class="yt">1500</text>
<text x="91" y="481.9" class="yt">2500</text>
<text x="91" y="530.1" class="yt">2000</text>
<text x="91" y="579" class="yt">1500</text>
<text x="91" y="627.5" class="yt">1000</text>
<text x="91" y="676.3" class="yt">500</text>
<text x="90.8" y="708.2" class="yt">0.9</text>
<text x="90.8" y="761.5" class="yt">0.8</text>
<text x="90.8" y="815.2" class="yt">0.7</text>
<text x="90.8" y="868.7" class="yt">0.6</text>
<text class="xt" transform="translate(145.8,913.2) rotate(-45)">7</text>
<text class="xt" transform="translate(228.5,913.2) rotate(-45)">5.6</text>
<text class="xt" transform="translate(310.7,913.2) rotate(-45)">5.0</text>
<text class="xt" transform="translate(393.4,913.2) rotate(-45)">4.5</text>
<text class="xt" transform="translate(467.4,913.2) rotate(-45)">7</text>
<text class="xt" transform="translate(550.2,913.2) rotate(-45)">5.6</text>
<text class="xt" transform="translate(632.7,913.2) rotate(-45)">5.0</text>
<text class="xt" transform="translate(715.5,913.2) rotate(-45)">4.5</text>
<text class="ttl" transform="translate(26,128.4) rotate(-90)">Fo</text>
<text class="ttl" transform="translate(15.2,346.7) rotate(-90)">Fm</text>
<text class="ttl" transform="translate(15.6,563.9) rotate(-90)">Fv</text>
<text style="font-size:20.4px;fill:#000080" transform="translate(24,809) rotate(-90)">F</text>
<text style="font-size:14.6px;fill:#000080" transform="translate(28.3,795.4) rotate(-90)">v</text>
<text style="font-size:20.4px;fill:#000080" transform="translate(24,787.2) rotate(-90)">/</text>
<text style="font-size:20.4px;fill:#000080" transform="translate(24,781) rotate(-90)">F</text>
<text style="font-size:14.6px;fill:#000080" transform="translate(28.6,768.6) rotate(-90)">m</text>
<rect x="117.3" y="3.7" width="20.6" height="9" fill="#a2fca0" stroke="#078a07" stroke-width="2.2"/>
<text x="152.2" y="14.2" class="leg">45 DAG</text>
<rect x="644.4" y="3.7" width="20.6" height="9" fill="#8e8eff" stroke="#00008e" stroke-width="2.2"/>
<text x="678.4" y="14.2" class="leg">90 DAG</text>
<text x="263.8" y="959.8" class="ph">pH</text>
<line x1="155.6" y1="968.2" x2="380.6" y2="968.2" stroke="#000080" stroke-width="2.6"/>
<text x="262" y="988.4" class="sam">Samridhi</text>
<text x="585.8" y="959.8" class="ph">pH</text>
<line x1="468" y1="968.2" x2="694.8" y2="968.2" stroke="#000080" stroke-width="2.6"/>
<text x="587.3" y="990.3" class="nan">Nandini</text>
</svg>
</body></html>
